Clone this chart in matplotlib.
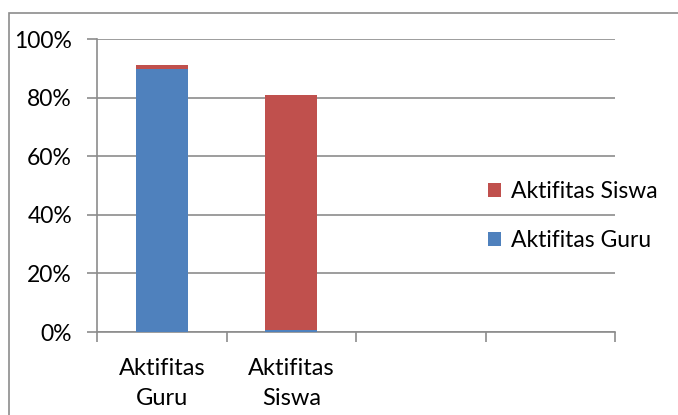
import matplotlib.pyplot as plt
from matplotlib.patches import Rectangle
from matplotlib.ticker import PercentFormatter

plt.rcParams['font.family'] = ['Lato', 'DejaVu Sans']

# four category slots, only the first two hold data
categories = ['Aktifitas\nGuru', 'Aktifitas\nSiswa', '', '']
guru = [89.7, 0.8, 0, 0]
siswa = [1.3, 80.2, 0, 0]

blue = '#4f81bd'
red = '#c0504d'
grey = '#8c8c8c'

fig = plt.figure(figsize=(6.78, 4.15), dpi=100)
ax = fig.add_axes([97 / 678, 1 - 332 / 415, 518 / 678, 293 / 415])

# outer chart border (runs off the right and bottom edges)
fig.patches.append(Rectangle((9 / 678, -1), 3, 2 - 13 / 415,
                             transform=fig.transFigure, fill=False,
                             edgecolor=grey, linewidth=1.2))

x = range(len(categories))
ax.bar(x, guru, width=0.4, color=blue, label='Aktifitas Guru', zorder=3)
ax.bar(x, siswa, width=0.4, bottom=guru, color=red, label='Aktifitas Siswa', zorder=3)

ax.set_xlim(-0.5, len(categories) - 0.5)
ax.set_ylim(0, 100)
ax.set_yticks(range(0, 101, 20))
ax.yaxis.set_major_formatter(PercentFormatter(decimals=0))
ax.grid(axis='y', color=grey, linewidth=1.2, zorder=0)

# category ticks sit between the slots, labels in the middle
ax.set_xticks([i - 0.5 for i in range(len(categories) + 1)])
ax.set_xticklabels([])
ax.set_xticks(list(x), minor=True)
ax.set_xticklabels(categories, minor=True, fontsize=17, linespacing=1.5)
ax.tick_params(axis='x', which='minor', length=0, pad=19)
ax.tick_params(axis='x', which='major', length=7, width=1.2, color=grey)
ax.tick_params(axis='y', length=7, width=1.2, color=grey, labelsize=16.5, pad=11)

for side in ['top', 'right']:
    ax.spines[side].set_visible(False)
for side in ['left', 'bottom']:
    ax.spines[side].set_color(grey)
    ax.spines[side].set_linewidth(1.2)

handles, labels = ax.get_legend_handles_labels()
ax.legend(handles[::-1], labels[::-1], loc='center left',
          bbox_to_anchor=(479 / 678, 1 - 216 / 415), bbox_transform=fig.transFigure,
          frameon=False, fontsize=16.5, handlelength=0.55, handleheight=0.55,
          handletextpad=0.45, labelspacing=1.2, borderaxespad=0)

fig.savefig('out.png', dpi=100)
